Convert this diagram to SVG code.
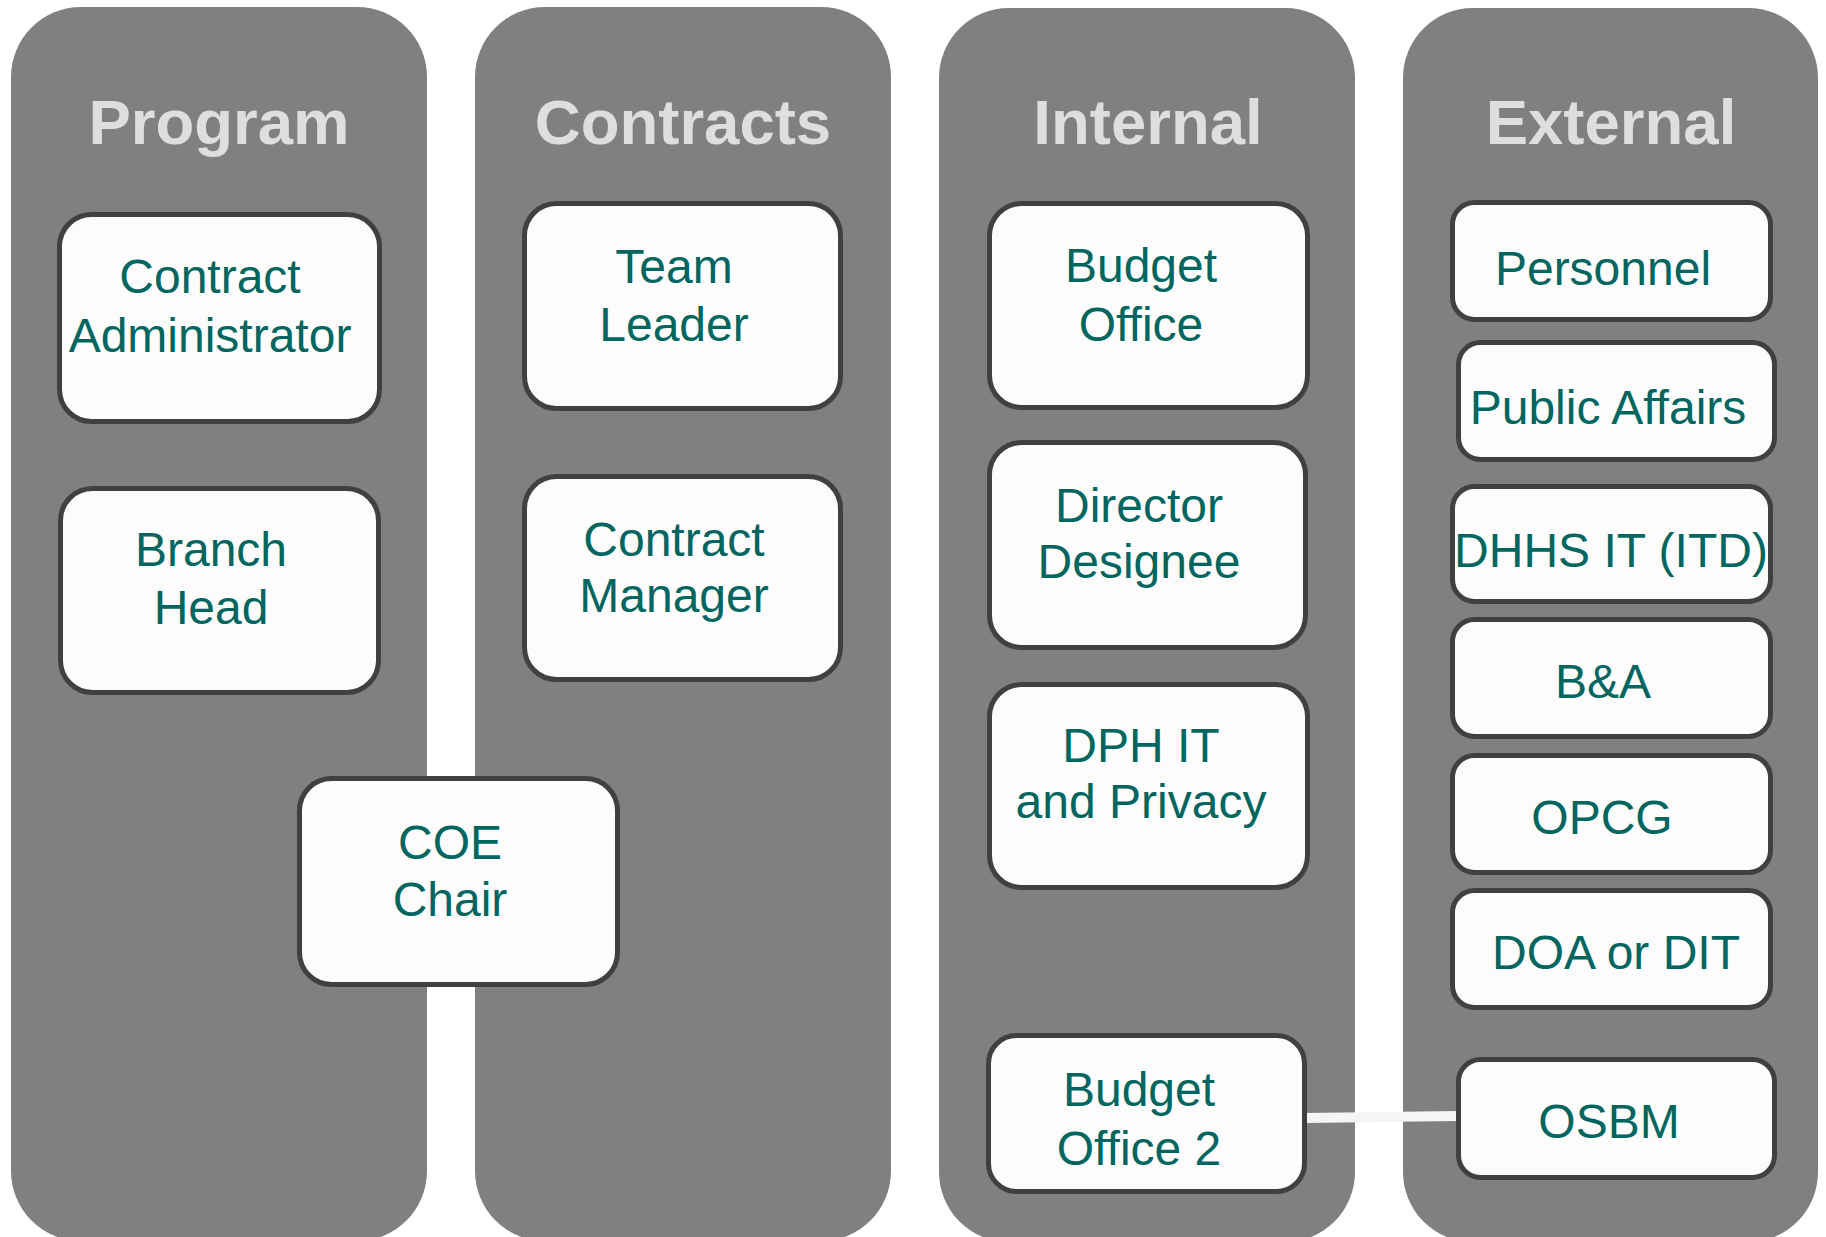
<svg xmlns="http://www.w3.org/2000/svg" width="1826" height="1237" viewBox="0 0 1826 1237">
<style>
.lane{fill:#808080}
.title{font-family:"Liberation Sans",Arial,sans-serif;font-weight:bold;font-size:63.5px;fill:#dedede;text-anchor:middle}
.box{fill:#fcfcfc;stroke:#404040;stroke-width:5}
.lbl{font-family:"Liberation Sans",Arial,sans-serif;font-size:48px;fill:#00665f;text-anchor:middle}
.conn{stroke:#f5f5f5;stroke-width:10;fill:none}
</style>
<rect width="1826" height="1237" fill="#ffffff"/>
<g id="lanes">
<rect class="lane" x="11" y="7" width="416" height="1234" rx="70" ry="70"/>
<rect class="lane" x="475" y="7" width="416" height="1234" rx="70" ry="70"/>
<rect class="lane" x="939" y="8" width="416" height="1234" rx="70" ry="70"/>
<rect class="lane" x="1403" y="8" width="415" height="1234" rx="70" ry="70"/>
<text class="title" x="219" y="144">Program</text>
<text class="title" x="683" y="144">Contracts</text>
<text class="title" x="1148" y="144">Internal</text>
<text class="title" x="1611" y="144">External</text>
</g>
<g id="connectors">
<line class="conn" x1="1305" y1="1118" x2="1458" y2="1116"/>
</g>
<g id="node-contract-administrator">
<rect class="box" x="59.5" y="214.5" width="320" height="207" rx="32"/>
<text class="lbl" x="210" y="293">Contract</text>
<text class="lbl" x="210" y="352">Administrator</text>
</g>
<g id="node-branch-head">
<rect class="box" x="60.5" y="488.5" width="318" height="204" rx="32"/>
<text class="lbl" x="211" y="566">Branch</text>
<text class="lbl" x="211" y="624">Head</text>
</g>
<g id="node-coe-chair">
<rect class="box" x="299.5" y="778.5" width="318" height="206" rx="32"/>
<text class="lbl" x="450" y="859">COE</text>
<text class="lbl" x="450" y="916">Chair</text>
</g>
<g id="node-team-leader">
<rect class="box" x="524.5" y="203.5" width="316" height="205" rx="32"/>
<text class="lbl" x="674" y="283">Team</text>
<text class="lbl" x="674" y="341">Leader</text>
</g>
<g id="node-contract-manager">
<rect class="box" x="524.5" y="476.5" width="316" height="203" rx="32"/>
<text class="lbl" x="674" y="556">Contract</text>
<text class="lbl" x="674" y="612">Manager</text>
</g>
<g id="node-budget-office">
<rect class="box" x="989.5" y="203.5" width="318" height="204" rx="32"/>
<text class="lbl" x="1141" y="282">Budget</text>
<text class="lbl" x="1141" y="341">Office</text>
</g>
<g id="node-director-designee">
<rect class="box" x="989.5" y="442.5" width="316" height="205" rx="32"/>
<text class="lbl" x="1139" y="522">Director</text>
<text class="lbl" x="1139" y="578">Designee</text>
</g>
<g id="node-dph-it">
<rect class="box" x="989.5" y="684.5" width="318" height="203" rx="32"/>
<text class="lbl" x="1141" y="762">DPH IT</text>
<text class="lbl" x="1141" y="818">and Privacy</text>
</g>
<g id="node-budget-office-2">
<rect class="box" x="988.5" y="1035.5" width="316" height="156" rx="28"/>
<text class="lbl" x="1139" y="1106">Budget</text>
<text class="lbl" x="1139" y="1165">Office 2</text>
</g>
<g id="node-personnel">
<rect class="box" x="1452.5" y="202.5" width="318" height="117" rx="22"/>
<text class="lbl" x="1603" y="285">Personnel</text>
</g>
<g id="node-public-affairs">
<rect class="box" x="1458.5" y="342.5" width="316" height="117" rx="22"/>
<text class="lbl" x="1608" y="424">Public Affairs</text>
</g>
<g id="node-dhhs-it">
<rect class="box" x="1452.5" y="486.5" width="318" height="115" rx="22"/>
<text class="lbl" x="1611" y="567">DHHS IT (ITD)</text>
</g>
<g id="node-ba">
<rect class="box" x="1452.5" y="619.5" width="318" height="117" rx="22"/>
<text class="lbl" x="1603" y="698">B&amp;A</text>
</g>
<g id="node-opcg">
<rect class="box" x="1452.5" y="755.5" width="318" height="117" rx="22"/>
<text class="lbl" x="1602" y="834">OPCG</text>
</g>
<g id="node-doa">
<rect class="box" x="1452.5" y="890.5" width="318" height="117" rx="22"/>
<text class="lbl" x="1616" y="969">DOA or DIT</text>
</g>
<g id="node-osbm">
<rect class="box" x="1458.5" y="1059.5" width="316" height="118" rx="22"/>
<text class="lbl" x="1609" y="1138">OSBM</text>
</g>
</svg>
